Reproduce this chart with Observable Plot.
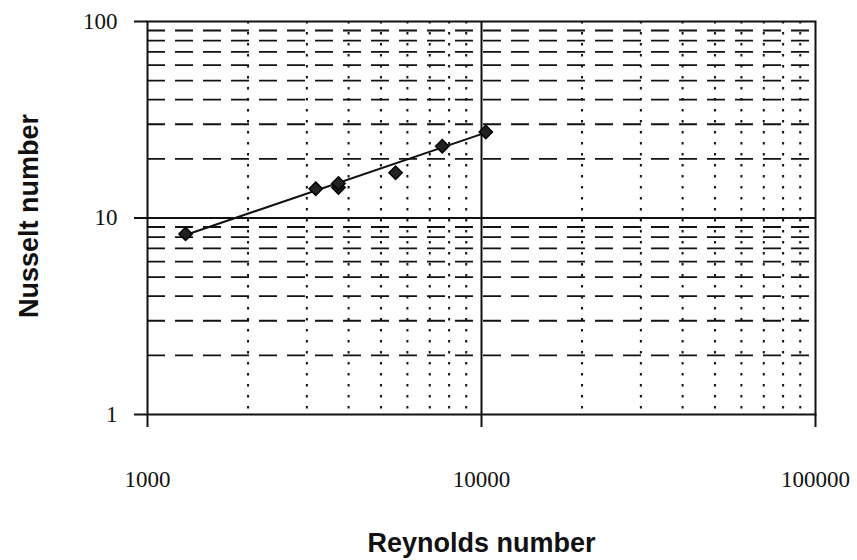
<!DOCTYPE html>
<html><head><meta charset="utf-8">
<script src="https://cdn.jsdelivr.net/npm/d3@7"></script>
<script src="https://cdn.jsdelivr.net/npm/@observablehq/plot@0.6"></script>
<style>body{margin:0;background:#fff}#chart{width:857px;height:560px}</style>
</head><body><div id="chart"></div>
<script>
// Measured points (Reynolds number vs Nusselt number)
const reynolds = [1300, 3190, 3730, 3730, 5530, 7630, 10300];
const nusselt = [8.3, 14.1, 14.3, 15.0, 17.0, 23.2, 27.4];
// Trend line end points
const fitReynolds = [1300, 10300];
const fitNusselt = [8.2, 27.2];
// Tick labels and gridlines
const xTicks = [1000, 10000, 100000];
const yTicks = [1, 10, 100];
const xMajor = [10000];
const yMajor = [10];
const xMinor = [2000, 3000, 4000, 5000, 6000, 7000, 8000, 9000, 20000, 30000, 40000, 50000, 60000, 70000, 80000, 90000];
const yMinor = [2, 3, 4, 5, 6, 7, 8, 9, 20, 30, 40, 50, 60, 70, 80, 90];
const xTitle = "Reynolds number";
const yTitle = "Nusselt number";

const points = reynolds.map((r, i) => ({re: r, nu: nusselt[i]}));
const fit = fitReynolds.map((r, i) => ({re: r, nu: fitNusselt[i]}));
const ink = "#111";
const serif = "'Liberation Serif', 'Times New Roman', serif";
const sans = "'Liberation Sans', Arial, sans-serif";

const chart = Plot.plot({
  width: 857, height: 560,
  marginLeft: 147, marginRight: 42, marginTop: 21, marginBottom: 146,
  x: {type: "log", domain: [1000, 100000]},
  y: {type: "log", domain: [1, 100]},
  style: {background: "#fff", color: ink, fontFamily: serif, fontSize: "23px"},
  marks: [
    Plot.ruleY(yMinor, {stroke: ink, strokeWidth: 1.8, strokeDasharray: "18,10"}),
    Plot.ruleX(xMinor, {stroke: ink, strokeWidth: 2, strokeDasharray: "2.5,8.5"}),
    Plot.ruleX(xMajor, {stroke: ink, strokeWidth: 2}),
    Plot.ruleY(yMajor, {stroke: ink, strokeWidth: 2}),
    Plot.frame({stroke: ink, strokeWidth: 2}),
    Plot.axisX({ticks: xTicks, tickSize: 13, tickPadding: 43, tickFormat: d => String(d), label: null, strokeWidth: 2}),
    Plot.axisY({ticks: yTicks, tickSize: 13, tickPadding: 17, tickFormat: d => String(d), label: null, strokeWidth: 2}),
    Plot.line(fit, {x: "re", y: "nu", stroke: ink, strokeWidth: 2}),
    Plot.dot(points, {x: "re", y: "nu", symbol: "diamond2", r: 6, fill: "#222", stroke: "#000", strokeWidth: 1.5}),
    Plot.text([xTitle], {text: d => d, frameAnchor: "bottom", dy: 137, lineAnchor: "bottom", textAnchor: "middle",
      fontFamily: sans, fontWeight: "bold", fontSize: 27, fill: ink}),
    Plot.text([yTitle], {text: d => d, frameAnchor: "left", dx: -110, dy: -2, rotate: -90, lineAnchor: "bottom", textAnchor: "middle",
      fontFamily: sans, fontWeight: "bold", fontSize: 27, fill: ink})
  ]
});
document.getElementById("chart").appendChild(chart);
d3.select(chart).selectAll('g[aria-label="x-axis tick label"], g[aria-label="y-axis tick label"]')
  .attr("font-family", serif).attr("font-size", 23).attr("font-variant", null);
</script>
</body></html>
